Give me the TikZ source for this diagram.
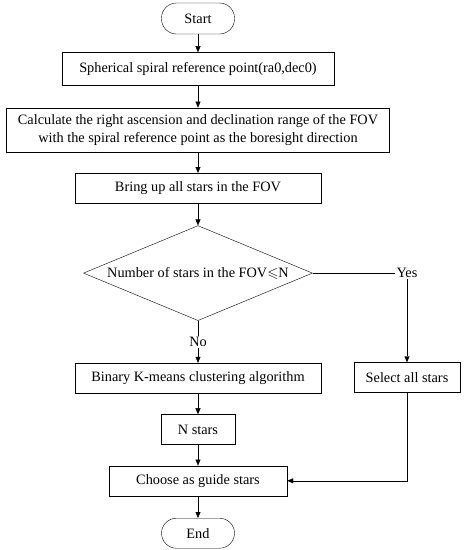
\documentclass[tikz,border=0pt]{standalone}
\usepackage{amssymb}
\usepackage{fontspec}
\setmainfont{Liberation Serif}
\usetikzlibrary{arrows.meta,positioning,calc,shapes.geometric}

\begin{document}
\begin{tikzpicture}[
  font=\fontsize{14.3}{18}\selectfont,
  node distance=21pt,
  proc/.style={draw,thin,align=center,inner sep=2pt,minimum height=30pt,minimum width=#1},
  term/.style={draw,thin,rounded corners=15pt,minimum width=73pt,minimum height=31pt},
  decision/.style={diamond,draw,thin,aspect=2.4,inner sep=0pt,minimum width=229pt,minimum height=95pt},
  arr/.style={-{Triangle[length=6pt,width=5pt]},thin}
]
  \useasboundingbox (0,0) rectangle (466pt,-550pt);
  \node[term] (start) at (198pt,-18.5pt) {Start};
  \node[proc=272pt,minimum height=33pt,below=18pt of start] (ref) {Spherical spiral reference point(ra0,dec0)};
  \node[proc=383pt,minimum height=44pt,below=22pt of ref] (range) {Calculate the right ascension and declination range of the FOV\\with the spiral reference point as the boresight direction};
  \node[proc=246pt,below=of range] (bring) {Bring up all stars in the FOV};
  \node[decision,below=22pt of bring] (count) {Number of stars in the FOV$\leqslant$N};
  \node[proc=246pt,below=42pt of count] (kmeans) {Binary K-means clustering algorithm};
  \node[proc=106pt] (select) at (407pt,-377.5pt) {Select all stars};
  \node[proc=74pt,below=of kmeans] (nstars) {N stars};
  \node[proc=178pt,below=of nstars] (guide) {Choose as guide stars};
  \node[term,minimum height=30pt,below=22pt of guide] (stop) {End};
  \node[inner sep=1pt] (yes) at (select.north |- count) {Yes};
  \node[inner sep=1pt,fill=white] (no) at ($(count.south)!0.5!(kmeans.north)$) {No};
  \draw[arr] (start) -- (ref);
  \draw[arr] (ref) -- (range);
  \draw[arr] (range) -- (bring);
  \draw[arr] (bring) -- (count);
  \draw (count) -- (no);
  \draw[arr] (no) -- (kmeans);
  \draw (count) -- (yes);
  \draw[arr] (yes) -- (select);
  \draw[arr] (kmeans) -- (nstars);
  \draw[arr] (nstars) -- (guide);
  \draw[arr] (select) |- (guide);
  \draw[arr] (guide) -- (stop);
\end{tikzpicture}
\end{document}
